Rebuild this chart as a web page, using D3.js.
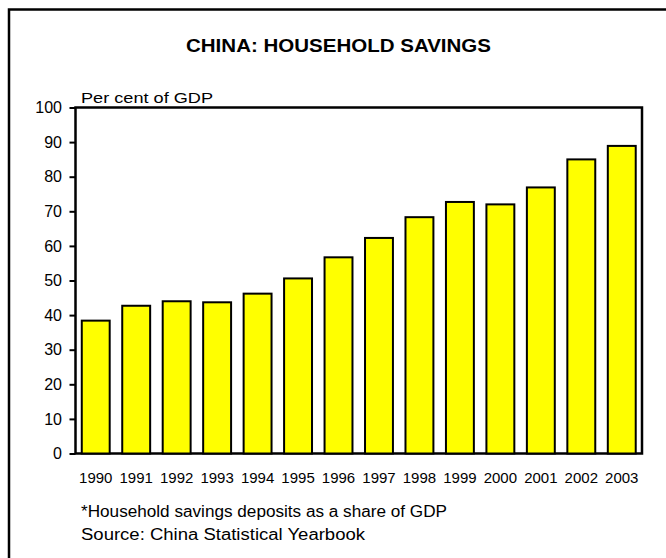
<!DOCTYPE html>
<html>
<head>
<meta charset="utf-8">
<script src="https://cdn.jsdelivr.net/npm/d3@7"></script>
<style>
  body { margin: 0; background: #fff; }
  svg text { font-family: "Liberation Sans", Arial, sans-serif; fill: #000; }
</style>
</head>
<body>
<div id="chart"></div>
<script>
// data
var years = ["1990","1991","1992","1993","1994","1995","1996","1997","1998","1999","2000","2001","2002","2003"];
var savings = [38.4, 42.7, 44.0, 43.7, 46.2, 50.6, 56.7, 62.3, 68.3, 72.7, 72.0, 76.9, 85.0, 88.9];
var yTicks = [0, 10, 20, 30, 40, 50, 60, 70, 80, 90, 100];

var W = 666, H = 558;
var margin = {top: 107.5, right: 24, bottom: 104.5, left: 75.5};
var width = W - margin.left - margin.right,
    height = H - margin.top - margin.bottom;

var svg = d3.select("#chart").append("svg")
    .attr("width", W)
    .attr("height", H);

// outer frame (runs off the right and bottom edges)
svg.append("rect")
    .attr("x", 9).attr("y", 9.5)
    .attr("width", W + 20).attr("height", H + 20)
    .attr("fill", "none")
    .attr("stroke", "#000")
    .attr("stroke-width", 2.5);

// the reference text is set a bit wider than Liberation Sans, so stretch to fit
svg.append("text")
    .attr("x", 186)
    .attr("y", 52)
    .attr("font-size", "17.5px")
    .attr("font-weight", "bold")
    .attr("textLength", 305)
    .attr("lengthAdjust", "spacingAndGlyphs")
    .text("CHINA: HOUSEHOLD SAVINGS");

var x = d3.scaleBand().domain(years).range([0, width]).paddingInner(0.31).paddingOuter(0.155);
var y = d3.scaleLinear().domain([0, 100]).range([height, 0]);

var g = svg.append("g")
    .attr("transform", "translate(" + margin.left + "," + margin.top + ")");

// plot box
g.append("rect")
    .attr("width", width).attr("height", height)
    .attr("fill", "none")
    .attr("stroke", "#000")
    .attr("stroke-width", 2.5);

g.selectAll(".bar")
    .data(savings)
    .enter().append("rect")
    .attr("class", "bar")
    .attr("x", function(d, i) { return x(years[i]); })
    .attr("y", function(d) { return y(d); })
    .attr("width", x.bandwidth())
    .attr("height", function(d) { return height - y(d); })
    .attr("fill", "#ffff00")
    .attr("stroke", "#000")
    .attr("stroke-width", 2);

var yAxis = g.append("g")
    .call(d3.axisLeft(y).tickValues(yTicks).tickSize(6).tickPadding(7.5));
yAxis.select(".domain").remove();
yAxis.selectAll("line").attr("stroke-width", 2);
yAxis.selectAll("text")
    .attr("font-size", "16px")
    .attr("font-family", "Liberation Sans, Arial, sans-serif");

var xAxis = g.append("g")
    .attr("transform", "translate(0," + height + ")")
    .call(d3.axisBottom(x).tickSize(0).tickPadding(19));
xAxis.select(".domain").remove();
xAxis.selectAll("text")
    .attr("font-size", "15px")
    .attr("font-family", "Liberation Sans, Arial, sans-serif");

svg.append("text")
    .attr("x", 81).attr("y", 103)
    .attr("font-size", "15.5px")
    .attr("textLength", 132)
    .attr("lengthAdjust", "spacingAndGlyphs")
    .text("Per cent of GDP");

svg.append("text")
    .attr("x", 81).attr("y", 517)
    .attr("font-size", "16px")
    .attr("textLength", 366)
    .attr("lengthAdjust", "spacingAndGlyphs")
    .text("*Household savings deposits as a share of GDP");

svg.append("text")
    .attr("x", 81).attr("y", 540)
    .attr("font-size", "16px")
    .attr("textLength", 284)
    .attr("lengthAdjust", "spacingAndGlyphs")
    .text("Source: China Statistical Yearbook");
</script>
</body>
</html>
